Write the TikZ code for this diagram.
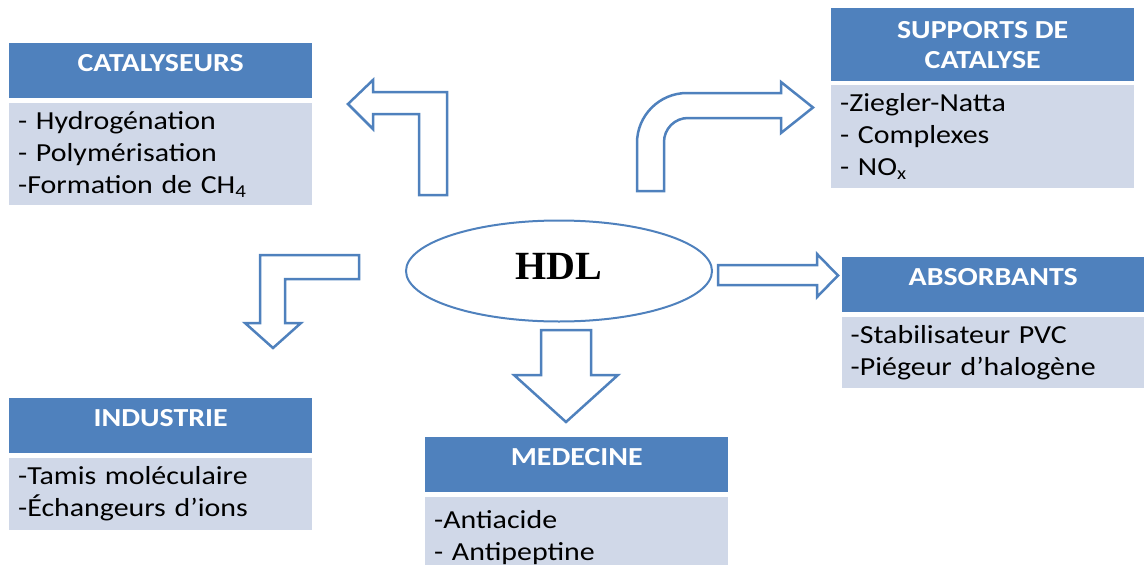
\documentclass[tikz,border=0pt]{standalone}
\usepackage{fontspec}
\setmainfont{Carlito}[FakeStretch=1.15]
\newfontfamily\hdlfont{Liberation Serif}
\usetikzlibrary{shapes.geometric}
\definecolor{hdrblue}{HTML}{4F81BD}
\definecolor{bodyblue}{HTML}{D0D8E8}
\tikzset{
  head/.style={
    rectangle,
    fill=hdrblue,
    text=white,
    font=\bfseries\fontsize{26}{30}\selectfont,
    minimum width=303pt,
    minimum height=55pt,
    text depth=15pt,
    inner sep=0pt,
    anchor=north west,
    align=center
  },
  body/.style={
    rectangle,
    fill=bodyblue,
    font=\fontsize{26}{32}\selectfont,
    minimum width=303pt,
    text width=285pt,
    inner sep=0pt,
    anchor=north west,
    align=left
  },
  fleche/.style={
    draw=hdrblue,
    line width=2.5pt,
    fill=white,
    line join=miter
  }
}

\begin{document}
\begin{tikzpicture}[x=1pt,y=-1pt]
    \useasboundingbox (0,0) rectangle (1144,565);
    \clip (0,0) rectangle (1144,565);
    % centre
    \node[ellipse,draw=hdrblue,line width=2pt,minimum width=306pt,minimum height=101pt,
      text depth=10pt,font=\hdlfont\bfseries\fontsize{40}{42}\selectfont] (hdl) at (559,271) {HDL};
    % boites
    \node[head] (cat) at (9,43) {CATALYSEURS};
    \node[body,minimum height=102pt] (catlist) at (9,103)
      {- Hydrogénation\\- Polymérisation\\-Formation de CH\textsubscript{4}};
    \node[head,minimum height=73pt,text depth=0pt] (sup) at (831,8) {SUPPORTS DE\\CATALYSE};
    \node[body,minimum height=103pt] (suplist) at (831,85)
      {-Ziegler-Natta\\- Complexes\\- NO\textsubscript{x}};
    \node[head,minimum width=302pt] (abs) at (842,257) {ABSORBANTS};
    \node[body,minimum width=302pt,minimum height=71pt] (abslist) at (842,317)
      {-Stabilisateur PVC\\-Piégeur d’halogène};
    \node[head] (ind) at (9,398) {INDUSTRIE};
    \node[body,minimum height=72pt] (indlist) at (9,458)
      {-Tamis moléculaire\\-Échangeurs d’ions};
    \node[head] (med) at (425,437) {MEDECINE};
    \node[body,minimum height=80pt] (medlist) at (425,497)
      {-Antiacide\\- Antipeptine};
    % fleches
    \draw[fleche] (419,195) -- (419,114) -- (373,114) -- (373,129) -- (348,104)
      -- (373,80) -- (373,92) -- (447,92) -- (447,195) -- cycle;
    \draw[fleche] (637,191) -- (637,143) .. controls (637,115.4) and (659.4,93) .. (687,93)
      -- (781,93) -- (781,82) -- (813,107.5) -- (781,133) -- (781,118) -- (688,118)
      .. controls (674.75,118) and (664,128.75) .. (664,142) -- (664,191) -- cycle;
    \draw[fleche] (359,255) -- (260,255) -- (260,323) -- (245,323) -- (273,348)
      -- (301,323) -- (285,323) -- (285,279) -- (359,279) -- cycle;
    \draw[fleche] (718,265) -- (817,265) -- (817,254) -- (838,275.5) -- (817,297)
      -- (817,285) -- (718,285) -- cycle;
    \draw[fleche] (541,330) -- (541,375) -- (514,375) -- (566,422) -- (618,375)
      -- (591,375) -- (591,330) -- cycle;
\end{tikzpicture}
\end{document}
